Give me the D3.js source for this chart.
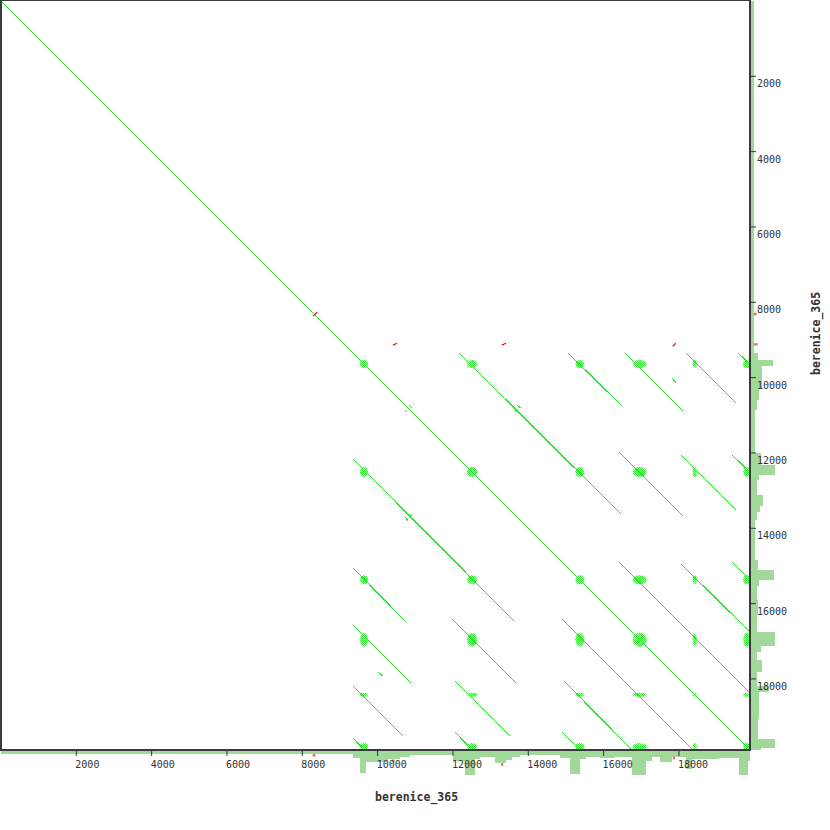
<!DOCTYPE html>
<html>
<head>
<meta charset="utf-8">
<script src="https://cdn.jsdelivr.net/npm/d3@7"></script>
<style>
  body { margin: 0; background: #fff; }
  svg { display: block; }
  .tick text { font-family: "DejaVu Sans Mono", monospace; font-size: 10px; fill: #333; }
  .tick line { stroke: #333; }
</style>
</head>
<body>
<div id="chart"></div>
<script>
// sequence length (bp) and axis ticks
var seqLen = 19900;
var tickValues = [2000, 4000, 6000, 8000, 10000, 12000, 14000, 16000, 18000];
var seqName = "berenice_365";

// forward matches: [x1, y1, x2, y2] in bp
var fwdSegments = [
    [0, 0, 19900, 19900],
    [12200, 9360, 16500, 13660],
    [15090, 9360, 16520, 10790],
    [16600, 9360, 18140, 10900],
    [18220, 9360, 19550, 10690],
    [19600, 9360, 19900, 9660],
    [16440, 11990, 18140, 13690],
    [18090, 12090, 19550, 13550],
    [19440, 12070, 19900, 12530],
    [16440, 14930, 19900, 18390],
    [18090, 14980, 19900, 16790],
    [19440, 14930, 19900, 15390],
    [9360, 12200, 13660, 16500],
    [9360, 15090, 10790, 16520],
    [9360, 16600, 10900, 18140],
    [9360, 18220, 10690, 19550],
    [9360, 19600, 9660, 19900],
    [11990, 16440, 13690, 18140],
    [12090, 18090, 13550, 19550],
    [12070, 19440, 12530, 19900],
    [14930, 16440, 18390, 19900],
    [14980, 18090, 16790, 19900],
    [14930, 19440, 15390, 19900]
];

// short side hits
var minorSegments = [
    [17830, 10030, 17960, 10160],
    [10030, 17830, 10160, 17960],
    [13740, 10745, 13820, 10825],
    [13635, 10877, 13690, 10932],
    [10850, 10745, 10930, 10825],
    [10745, 10877, 10800, 10932],
    [10745, 13740, 10825, 13820],
    [10877, 13635, 10932, 13690]
];

// reverse matches
var revSegments = [
    [8300, 8380, 8410, 8270],
    [10420, 9150, 10530, 9100],
    [13310, 9150, 13420, 9100],
    [17850, 9180, 17930, 9100]
];

// repeat copies (centre, width in bp) -> low-complexity blocks
var repeatPos = [9650, 12520, 15380, 16970, 18430, 19810];
var repeatSize = [212, 265, 239, 371, 106, 186];

// coverage profile: [start, end, depth]
var coverage = [
    [0, 9360, 1], [9360, 9550, 2.5], [9550, 9710, 8], [9710, 9760, 4],
    [9760, 10290, 4], [10290, 10610, 3], [10610, 10870, 2], [10870, 12010, 1.5],
    [12010, 12330, 3.5], [12330, 12600, 8.5], [12600, 12730, 3], [12730, 13130, 2],
    [13130, 13420, 4.3], [13420, 13580, 3.2], [13580, 13790, 2], [13790, 14850, 1.5],
    [14850, 15120, 2.5], [15120, 15380, 8.2], [15380, 15540, 3], [15540, 15910, 2],
    [15910, 16310, 2.5], [16310, 16760, 2], [16760, 17130, 8.5], [17130, 17290, 3.5],
    [17290, 17500, 2], [17500, 17820, 4], [17820, 18190, 2], [18190, 18350, 6.5],
    [18350, 19090, 3], [19090, 19620, 2.5], [19620, 19840, 8.5], [19840, 19900, 3.5]
];
// reverse coverage on each axis: [start, end, depth]
var revCoverageX = [[8290, 8360, 1], [10400, 10460, 1], [13290, 13350, 1], [17850, 17910, 1]];
var revCoverageY = [[8290, 8360, 1], [9100, 9160, 1.4]];

var width = 830, height = 830;
var plot = 750;
var green = "#22e622", histGreen = "#a0d99a", red = "#ee1111", histRed = "#f06a6a";

var svg = d3.select("#chart").append("svg")
    .attr("width", width)
    .attr("height", height);

var x = d3.scaleLinear().domain([0, seqLen]).range([0.5, plot]);
var y = d3.scaleLinear().domain([0, seqLen]).range([0.5, plot]);
var depth = d3.scaleLinear().domain([0, 10]).range([0, 28]);

// snap to pixel centres so 45 degree hits come out as unbroken pixel chains
function sx(v){ return Math.round(x(v) - 0.5) + 0.5; }
function sy(v){ return Math.round(y(v) - 0.5) + 0.5; }

var defs = svg.append("defs");
var pat = defs.append("pattern")
    .attr("id", "chk")
    .attr("width", 2).attr("height", 2)
    .attr("patternUnits", "userSpaceOnUse");
pat.append("rect").attr("x", 0).attr("y", 0).attr("width", 1).attr("height", 1).attr("fill", green);
pat.append("rect").attr("x", 1).attr("y", 1).attr("width", 1).attr("height", 1).attr("fill", green);

function covAt(p){
    for (var i = 0; i < coverage.length; i++) {
        if (p >= coverage[i][0] && p < coverage[i][1]) return coverage[i][2];
    }
    return 0;
}

// histograms
var histX = svg.append("g").attr("transform", "translate(0," + (plot + 1) + ")");
histX.selectAll("rect.cov").data(coverage).enter().append("rect")
    .attr("x", d => x(d[0]))
    .attr("width", d => x(d[1]) - x(d[0]))
    .attr("y", 0)
    .attr("height", d => depth(d[2]))
    .attr("fill", histGreen)
    .attr("shape-rendering", "crispEdges");
histX.selectAll("rect.rev").data(revCoverageX).enter().append("rect")
    .attr("x", d => x(d[0]))
    .attr("width", d => x(d[1]) - x(d[0]))
    .attr("y", d => depth(covAt(d[0])))
    .attr("height", d => depth(d[2]))
    .attr("fill", histRed);

var histY = svg.append("g").attr("transform", "translate(" + (plot + 1) + ",0)");
histY.selectAll("rect.cov").data(coverage).enter().append("rect")
    .attr("y", d => y(d[0]))
    .attr("height", d => y(d[1]) - y(d[0]))
    .attr("x", 0)
    .attr("width", d => depth(d[2]))
    .attr("fill", histGreen)
    .attr("shape-rendering", "crispEdges");
histY.selectAll("rect.rev").data(revCoverageY).enter().append("rect")
    .attr("y", d => y(d[0]))
    .attr("height", d => y(d[1]) - y(d[0]))
    .attr("x", d => depth(covAt(d[0])))
    .attr("width", d => depth(d[2]))
    .attr("fill", histRed);

// dot plot
var dots = svg.append("g");
var blobs = [];
repeatPos.forEach(function(px, i){
    repeatPos.forEach(function(py, j){
        blobs.push({cx: px, cy: py, rx: repeatSize[i] / 2, ry: repeatSize[j] / 2});
    });
});
dots.selectAll("ellipse").data(blobs).enter().append("ellipse")
    .attr("cx", d => x(d.cx))
    .attr("cy", d => y(d.cy))
    .attr("rx", d => x(d.rx) - x(0))
    .attr("ry", d => y(d.ry) - y(0))
    .attr("fill", "url(#chk)");

dots.selectAll("line.fwd").data(fwdSegments.concat(minorSegments)).enter().append("line")
    .attr("x1", d => sx(d[0])).attr("y1", d => sy(d[1]))
    .attr("x2", d => sx(d[2])).attr("y2", d => sy(d[3]))
    .attr("stroke", green)
    .attr("stroke-width", 1)
    .attr("shape-rendering", "crispEdges");

dots.selectAll("line.rev").data(revSegments).enter().append("line")
    .attr("x1", d => x(d[0])).attr("y1", d => y(d[1]))
    .attr("x2", d => x(d[2])).attr("y2", d => y(d[3]))
    .attr("stroke", red)
    .attr("stroke-width", 1.3);

// frame
var frame = svg.append("g").attr("stroke", "#3a3a3a").attr("shape-rendering", "crispEdges");
frame.append("line").attr("x1", 1).attr("y1", 0).attr("x2", 1).attr("y2", plot + 1).attr("stroke-width", 2);
frame.append("line").attr("x1", 0).attr("y1", 0.5).attr("x2", plot).attr("y2", 0.5).attr("stroke-width", 1);
frame.append("line").attr("x1", plot).attr("y1", 0).attr("x2", plot).attr("y2", plot + 1).attr("stroke-width", 2);
frame.append("line").attr("x1", 0).attr("y1", plot).attr("x2", plot + 1).attr("y2", plot).attr("stroke-width", 2);

// axes
var xAxis = svg.append("g")
    .attr("transform", "translate(0," + (plot + 1) + ")")
    .call(d3.axisBottom(x).tickValues(tickValues).tickSize(5).tickSizeOuter(0).tickFormat(d3.format("d")));
xAxis.select(".domain").remove();
xAxis.selectAll(".tick text")
    .attr("text-anchor", "start")
    .attr("x", -1)
    .attr("y", 17)
    .attr("dy", null);

var yAxis = svg.append("g")
    .attr("transform", "translate(" + (plot + 1) + ",0)")
    .call(d3.axisRight(y).tickValues(tickValues).tickSize(5).tickSizeOuter(0).tickFormat(d3.format("d")));
yAxis.select(".domain").remove();
yAxis.selectAll(".tick text")
    .attr("text-anchor", "start")
    .attr("x", 6)
    .attr("y", 11)
    .attr("dy", null);

svg.append("text")
    .attr("x", 375)
    .attr("y", 801)
    .style("font-family", "'DejaVu Sans Mono', monospace")
    .style("font-size", "11.5px")
    .style("font-weight", "bold")
    .attr("fill", "#333")
    .text(seqName);

svg.append("text")
    .attr("transform", "translate(820,375) rotate(-90)")
    .style("font-family", "'DejaVu Sans Mono', monospace")
    .style("font-size", "11.5px")
    .style("font-weight", "bold")
    .attr("fill", "#333")
    .text(seqName);
</script>
</body>
</html>
